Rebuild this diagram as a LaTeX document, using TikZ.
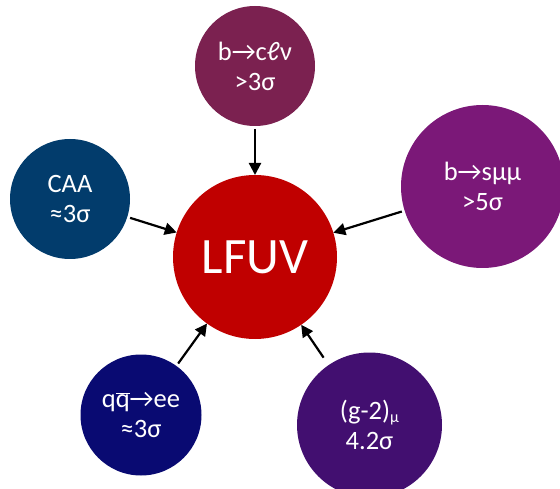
\documentclass[tikz,border=0pt]{standalone}
\usepackage{fontspec}
\setmainfont{Carlito}
\usetikzlibrary{arrows.meta}
\definecolor{cRed}{HTML}{C00000}
\definecolor{cMaroon}{HTML}{7B2150}
\definecolor{cBlue}{HTML}{023C6C}
\definecolor{cPurple}{HTML}{7B1878}
\definecolor{cNavy}{HTML}{090A72}
\definecolor{cViolet}{HTML}{420F70}
\begin{document}
\begin{tikzpicture}[x=1pt,y=-1pt,
  bub/.style={circle,draw=none,fill=#1,text=white,align=center,inner sep=0pt,outer sep=0pt,font=\fontsize{26.5}{30}\selectfont},
  arr/.style={line width=2.2pt,-{Triangle[length=12pt,width=12pt]},shorten <=#1},
  arr/.default=3pt]
\useasboundingbox (0,0) rectangle (560,489);
\clip (0,0) rectangle (560,489);
\node[bub=cRed,minimum size=164pt,font=\fontsize{51}{60}\selectfont] (lfuv) at (255,257) {LFUV};
\node[bub=cMaroon,minimum size=120pt] (bc) at (255,66) {b→cℓν\\>3σ};
\node[bub=cBlue,minimum size=120pt] (caa) at (70,199) {CAA\\≈3σ};
\node[bub=cPurple,minimum size=163pt] (bs) at (482.5,186.5) {b→sμμ\\>5σ};
\node[bub=cNavy,minimum size=121pt] (qq) at (141,415) {q\ensuremath{\overline{\hbox{q}}}→ee\\≈3σ};
\node[bub=cViolet,minimum size=145pt] (gm) at (369.5,425) {(g-2)\raisebox{-3pt}{\fontsize{16}{16}\selectfont μ}\\4.2σ};
\draw[arr] (bc) -- (lfuv);
\draw[arr] (caa) -- (lfuv);
\draw[arr] (bs) -- (lfuv);
\draw[arr] (qq) -- (lfuv);
\draw[arr=9pt] (gm) -- (lfuv);
\end{tikzpicture}
\end{document}
